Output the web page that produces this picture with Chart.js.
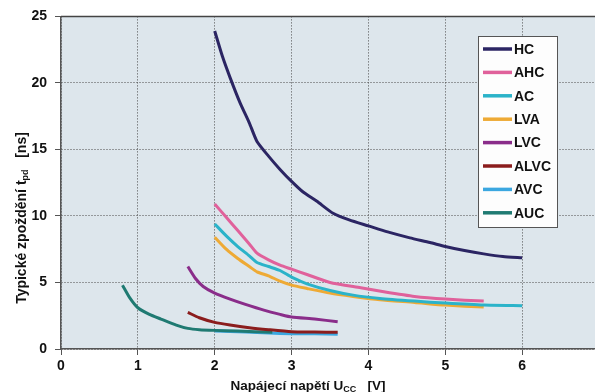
<!DOCTYPE html>
<html>
<head>
<meta charset="utf-8">
<script src="https://cdn.jsdelivr.net/npm/chart.js@4/dist/chart.umd.min.js"></script>
<style>
    html, body { margin: 0; padding: 0; background: #fff; overflow: hidden; }
    #wrap { position: relative; width: 610px; height: 392px; }
</style>
</head>
<body>
<div id="wrap"><canvas id="delayChart"></canvas></div>
<script>
// Series labels and colours (legend order)
const families = ['HC', 'AHC', 'AC', 'LVA', 'LVC', 'ALVC', 'AVC', 'AUC'];
const colors = ['#2b2563', '#e0619b', '#2bb3c9', '#eeaa35', '#8a2d8a', '#8b1d1d', '#3ba7e0', '#1f7a72'];

// Supply voltage U_CC [V] and typical delay t_pd [ns]
const hcU = [2.0, 2.1, 2.2, 2.33, 2.45, 2.55, 2.7, 2.85, 3.0, 3.15, 3.33, 3.54, 3.75, 4.0, 4.25, 4.54, 4.8, 5.0, 5.25, 5.5, 5.75, 6.0];
const hcT = [23.9, 22.0, 20.4, 18.5, 17.0, 15.6, 14.5, 13.5, 12.6, 11.8, 11.1, 10.2, 9.7, 9.25, 8.8, 8.35, 8.0, 7.7, 7.4, 7.15, 6.95, 6.85];

const ahcU = [2.0, 2.15, 2.3, 2.45, 2.55, 2.7, 2.85, 3.0, 3.2, 3.5, 3.9, 4.2, 4.6, 5.0, 5.5];
const ahcT = [10.9, 9.9, 8.9, 7.9, 7.2, 6.7, 6.3, 6.0, 5.6, 5.0, 4.6, 4.3, 3.95, 3.75, 3.6];

const acU = [2.0, 2.15, 2.3, 2.45, 2.55, 2.7, 2.85, 3.0, 3.2, 3.5, 3.8, 4.15, 4.6, 5.0, 5.5, 6.0];
const acT = [9.4, 8.5, 7.7, 7.0, 6.5, 6.2, 5.9, 5.4, 4.9, 4.4, 4.05, 3.8, 3.6, 3.45, 3.3, 3.25];

const lvaU = [2.0, 2.15, 2.3, 2.45, 2.55, 2.7, 2.85, 3.0, 3.2, 3.5, 3.8, 4.15, 4.6, 5.0, 5.5];
const lvaT = [8.4, 7.5, 6.8, 6.2, 5.8, 5.5, 5.1, 4.8, 4.55, 4.2, 3.95, 3.7, 3.5, 3.3, 3.15];

const lvcU = [1.65, 1.75, 1.85, 2.0, 2.2, 2.4, 2.65, 2.85, 3.0, 3.3, 3.6];
const lvcT = [6.2, 5.3, 4.7, 4.2, 3.75, 3.35, 2.9, 2.6, 2.4, 2.25, 2.05];

const alvcU = [1.65, 1.8, 2.0, 2.2, 2.45, 2.7, 3.0, 3.3, 3.6];
const alvcT = [2.75, 2.35, 2.0, 1.8, 1.6, 1.45, 1.3, 1.28, 1.25];

const avcU = [2.0, 2.4, 2.7, 3.0, 3.3, 3.6];
const avcT = [1.35, 1.27, 1.2, 1.15, 1.15, 1.1];

const aucU = [0.8, 0.9, 1.0, 1.15, 1.3, 1.5, 1.65, 1.8, 2.0, 2.3, 2.75];
const aucT = [4.8, 3.8, 3.1, 2.6, 2.25, 1.8, 1.55, 1.45, 1.4, 1.35, 1.25];

const seriesU = [hcU, ahcU, acU, lvaU, lvcU, alvcU, avcU, aucU];
const seriesT = [hcT, ahcT, acT, lvaT, lvcT, alvcT, avcT, aucT];

const FONT = '"Liberation Sans", Arial, sans-serif';

// plot background, top frame line, axis titles with subscripts, boxed legend
const decor = {
    id: 'decor',
    beforeDraw(chart) {
        const { ctx, chartArea: a } = chart;
        ctx.save();
        ctx.fillStyle = '#dde6ec';
        ctx.fillRect(a.left, a.top, a.right - a.left, a.bottom - a.top);
        ctx.restore();
    },
    afterDraw(chart) {
        const { ctx, chartArea: a } = chart;
        ctx.save();
        ctx.strokeStyle = '#444';
        ctx.lineWidth = 1.5;
        ctx.beginPath();
        ctx.moveTo(a.left, a.top);
        ctx.lineTo(a.right, a.top);
        ctx.stroke();

        // x title
        drawSubText(ctx, [['Napájecí napětí U', 13.5], ['CC', 9], ['   [V]', 13.5]], 308, 385, 0);
        // y title
        drawSubText(ctx, [['Typické zpoždění t', 14], ['pd', 9], ['   [ns]', 14]], 21, 218, -Math.PI / 2);

        // legend box
        const bx = 478, by = 36, bw = 79, bh = 191;
        ctx.fillStyle = '#fdfdfd';
        ctx.fillRect(bx, by, bw, bh);
        ctx.strokeStyle = '#555';
        ctx.lineWidth = 1;
        ctx.strokeRect(bx + 0.5, by + 0.5, bw, bh);
        chart.data.datasets.forEach((ds, i) => {
            const y = 49 + i * 23.4;
            ctx.strokeStyle = ds.borderColor;
            ctx.lineWidth = 3.5;
            ctx.beginPath();
            ctx.moveTo(483, y);
            ctx.lineTo(512, y);
            ctx.stroke();
            ctx.fillStyle = '#111';
            ctx.font = 'bold 14px ' + FONT;
            ctx.textBaseline = 'middle';
            ctx.textAlign = 'left';
            ctx.fillText(ds.label, 514, y + 1);
        });
        ctx.restore();
    }
};

function drawSubText(ctx, parts, cx, cy, rot) {
    ctx.save();
    ctx.translate(cx, cy);
    ctx.rotate(rot);
    ctx.fillStyle = '#111';
    ctx.textBaseline = 'alphabetic';
    ctx.textAlign = 'left';
    let total = 0;
    parts.forEach(p => { ctx.font = 'bold ' + p[1] + 'px ' + FONT; total += ctx.measureText(p[0]).width; });
    let x = -total / 2;
    parts.forEach(p => {
        ctx.font = 'bold ' + p[1] + 'px ' + FONT;
        ctx.fillText(p[0], x, p[1] < 13 ? 7 : 5);
        x += ctx.measureText(p[0]).width;
    });
    ctx.restore();
}

const datasets = families.map((name, i) => ({
    label: name,
    data: seriesU[i].map((u, j) => ({ x: u, y: seriesT[i][j] })),
    borderColor: colors[i],
    backgroundColor: colors[i],
    borderWidth: 3,
    pointRadius: 0,
    tension: 0.2,
    fill: false,
    order: name === 'AVC' ? 1 : 0
}));

const grid = {
    color: '#4a4a4a',
    lineWidth: 1,
    tickLength: 6,
    tickColor: '#555',
    tickBorderDash: []
};

new Chart(document.getElementById('delayChart'), {
    type: 'line',
    data: { datasets },
    options: {
        responsive: true,
        maintainAspectRatio: false,
        animation: false,
        layout: { padding: { top: 16, right: 11, left: 0, bottom: 0 } },
        plugins: { legend: { display: false }, tooltip: { enabled: false } },
        scales: {
            x: {
                type: 'linear', min: 0, max: 7,
                grid: grid,
                border: { display: true, color: '#555', width: 1.5, dash: [1, 2] },
                ticks: { stepSize: 1, padding: 3, color: '#111', font: { family: FONT, size: 14, weight: 'bold' }, maxRotation: 0 },
                afterFit: s => { s.height = 43; }
            },
            y: {
                min: 0, max: 25,
                grid: grid,
                border: { display: true, color: '#555', width: 1.5, dash: [1, 2] },
                ticks: { stepSize: 5, padding: 8, color: '#111', font: { family: FONT, size: 14, weight: 'bold' } },
                afterFit: s => { s.width = 61; }
            }
        }
    },
    plugins: [decor]
});
</script>
</body>
</html>
